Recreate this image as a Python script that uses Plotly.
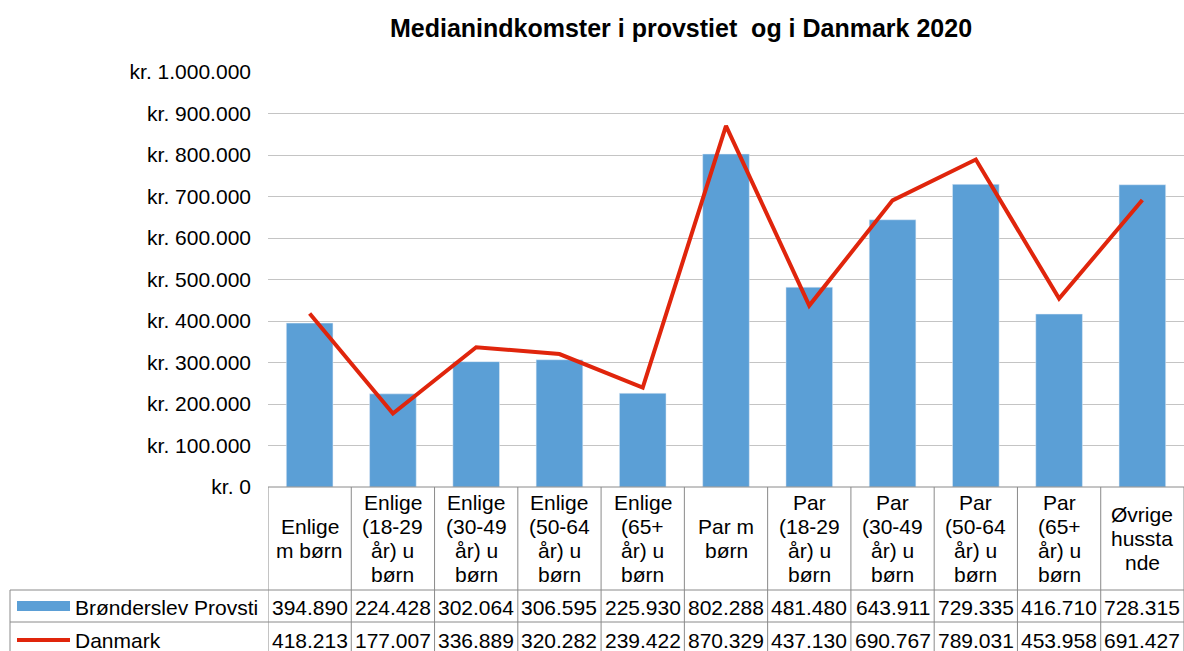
import plotly.graph_objects as go

categories = ["Enlige\nm børn", "Enlige\n(18-29\når) u\nbørn", "Enlige\n(30-49\når) u\nbørn",
              "Enlige\n(50-64\når) u\nbørn", "Enlige\n(65+\når) u\nbørn", "Par m\nbørn",
              "Par\n(18-29\når) u\nbørn", "Par\n(30-49\når) u\nbørn", "Par\n(50-64\når) u\nbørn",
              "Par\n(65+\når) u\nbørn", "Øvrige\nhussta\nnde"]
provsti = [394890, 224428, 302064, 306595, 225930, 802288, 481480, 643911, 729335, 416710, 728315]
danmark = [418213, 177007, 336889, 320282, 239422, 870329, 437130, 690767, 789031, 453958, 691427]
series_names = ["Brønderslev Provsti", "Danmark"]
tick_vals = [0, 100000, 200000, 300000, 400000, 500000, 600000, 700000, 800000, 900000, 1000000]
title_text = "Medianindkomster i provstiet \u00a0og i Danmark 2020"

BLUE = "#5B9FD6"
RED = "#E0250C"
GRID = "#C4C4C4"
TBL = "#8A8A8A"
FONT = "Liberation Sans, Arial, sans-serif"

W, H = 1184, 651
L, T = 268, 72
PB = 487            # plot bottom in pixels
R = 0
B = H - PB
plot_h = PB - T
plot_w = W - L - R


def py(p):
    return (PB - p) / plot_h


def px(p):
    return (p - L) / plot_w


def fmt(v):
    return f"{v:,}".replace(",", ".")


xs = list(range(len(categories)))

fig = go.Figure()
fig.add_trace(go.Bar(x=xs, y=provsti, marker_color=BLUE, width=0.56, name=series_names[0]))
fig.add_trace(go.Scatter(x=xs, y=danmark, mode="lines", line=dict(color=RED, width=4),
                         name=series_names[1]))

shapes = []
annotations = []
n = len(categories)
bottom = py(651 + 10)
for i in range(n + 1):
    shapes.append(dict(type="line", xref="x", yref="paper", x0=i - 0.5, x1=i - 0.5,
                       y0=py(487), y1=bottom, line=dict(color=TBL, width=1)))
shapes.append(dict(type="line", xref="paper", yref="paper", x0=px(10), x1=px(10),
                   y0=py(590), y1=bottom, line=dict(color=TBL, width=1)))
for yy in (590, 622):
    shapes.append(dict(type="line", xref="paper", yref="paper", x0=px(10), x1=1,
                       y0=py(yy), y1=py(yy), line=dict(color=TBL, width=1)))
shapes.append(dict(type="line", xref="paper", yref="paper", x0=0, x1=1,
                   y0=py(487), y1=py(487), line=dict(color=TBL, width=1)))
shapes.append(dict(type="rect", xref="paper", yref="paper", x0=px(17), x1=px(70),
                   y0=py(611), y1=py(601), fillcolor=BLUE, line=dict(width=0)))
shapes.append(dict(type="line", xref="paper", yref="paper", x0=px(17), x1=px(70),
                   y0=py(640), y1=py(640), line=dict(color=RED, width=4)))

LINE_H = 24
HEAD_C = 538
for i, c in enumerate(categories):
    lines = c.split("\n")
    k = len(lines)
    for j, ln in enumerate(lines):
        yc = HEAD_C + (j - (k - 1) / 2) * LINE_H
        annotations.append(dict(x=i, y=py(yc), xref="x", yref="paper", text=ln, showarrow=False,
                                yanchor="middle", xanchor="center",
                                font=dict(size=21, color="black", family=FONT)))
    annotations.append(dict(x=i, y=py(607), xref="x", yref="paper", text=fmt(provsti[i]),
                            showarrow=False, yanchor="middle", xanchor="center",
                            font=dict(size=21, color="black", family=FONT)))
    annotations.append(dict(x=i, y=py(640), xref="x", yref="paper", text=fmt(danmark[i]),
                            showarrow=False, yanchor="middle", xanchor="center",
                            font=dict(size=21, color="black", family=FONT)))

annotations.append(dict(x=px(73), y=py(607), xref="paper", yref="paper", text=series_names[0],
                        showarrow=False, xanchor="left", yanchor="middle",
                        font=dict(size=21, color="black", family=FONT)))
annotations.append(dict(x=px(73), y=py(640), xref="paper", yref="paper", text=series_names[1],
                        showarrow=False, xanchor="left", yanchor="middle",
                        font=dict(size=21, color="black", family=FONT)))

fig.update_layout(
    width=W, height=H,
    margin=dict(l=L, r=R, t=T, b=B, autoexpand=False),
    paper_bgcolor="white", plot_bgcolor="white",
    showlegend=False,
    title=dict(text=f"<b>{title_text}</b>", x=681 / W, xanchor="center",
               y=1 - 28 / H, yanchor="middle",
               font=dict(size=25, color="black", family=FONT)),
    xaxis=dict(range=[-0.5, n - 0.5], showticklabels=False, showgrid=False, zeroline=False,
               showline=False, ticks=""),
    yaxis=dict(range=[0, 1000000], tickvals=tick_vals,
               ticktext=["kr. " + fmt(v) for v in tick_vals],
               showgrid=True, gridcolor=GRID, gridwidth=1, zeroline=False, showline=False,
               ticks="", ticklabelstandoff=16,
               tickfont=dict(size=21, color="black", family=FONT)),
    shapes=shapes, annotations=annotations,
)

fig.write_html(
    "out.html",
    config={"displayModeBar": False},
    post_script=(
        "document.documentElement.style.overflow='hidden';"
        "document.body.style.overflow='hidden';"
        "document.body.style.margin='0';"
    ),
)
